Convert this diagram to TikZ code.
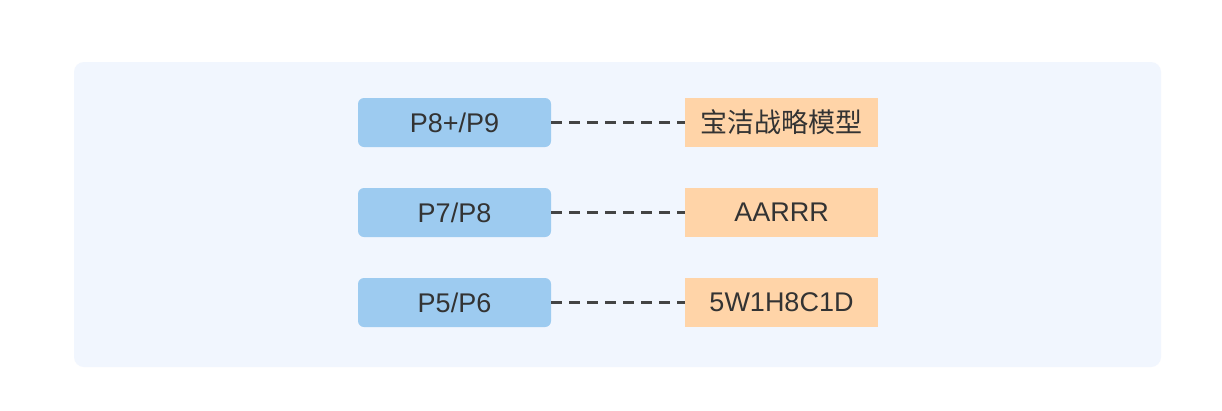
\documentclass[tikz,border=0pt]{standalone}
\usepackage{fontspec}
\setmainfont{Liberation Sans}
\newfontfamily\cjk{Noto Sans CJK SC}
\definecolor{panelbg}{HTML}{F1F6FE}
\definecolor{levelblue}{HTML}{9DCBF0}
\definecolor{modelorange}{HTML}{FFD4A8}
\definecolor{inkgray}{HTML}{333333}
\definecolor{dashgray}{HTML}{444444}
\tikzset{
 level/.style={fill=levelblue,rounded corners=6pt,minimum width=193pt,minimum height=49pt,inner sep=0pt,text=inkgray,font=\fontsize{27}{31}\selectfont},
 model/.style={fill=modelorange,minimum width=193pt,minimum height=49pt,inner sep=0pt,text=inkgray,font=\fontsize{27}{31}\selectfont},
 link/.style={dashgray,line width=2.6pt,dash pattern=on 11pt off 7pt}
}
\begin{document}
\begin{tikzpicture}[x=1pt,y=-1pt]
 \useasboundingbox[fill=white] (0,0) rectangle (1222,410);
 \fill[panelbg,rounded corners=10pt] (74,62) rectangle (1161,367);

 \node[level] (p9) at (454.5,122.5){P8+/P9};
 \node[level] (p8) at (454.5,212.5){P7/P8};
 \node[level] (p6) at (454.5,302.5){P5/P6};

 \node[model] (pg) at (781.5,122.5){\cjk 宝洁战略模型};
 \node[model] (aarrr) at (781.5,212.5){AARRR};
 \node[model] (fivew) at (781.5,302.5){5W1H8C1D};

 \draw[link] (p9) -- (pg);
 \draw[link] (p8) -- (aarrr);
 \draw[link] (p6) -- (fivew);
\end{tikzpicture}
\end{document}
